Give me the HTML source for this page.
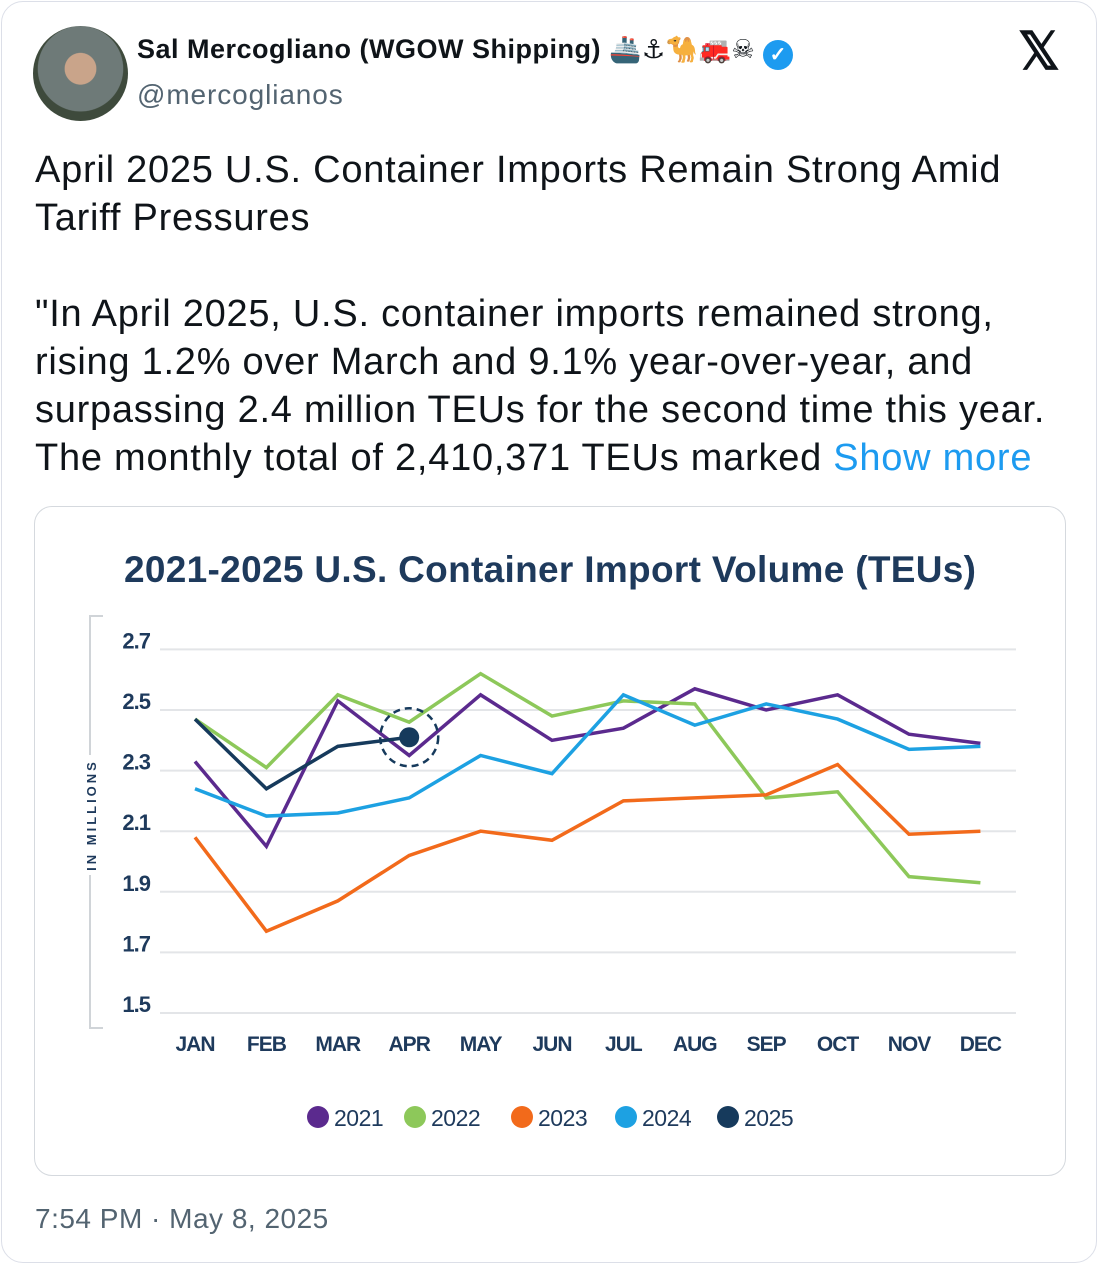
<!DOCTYPE html>
<html><head><meta charset="utf-8"><style>
body{margin:0;width:1100px;height:1266px;background:#fff;font-family:"Liberation Sans",sans-serif;overflow:hidden}
.card{position:absolute;left:1px;top:1px;width:1096px;height:1262px;border:1px solid #dcdfe8;border-radius:22px;box-sizing:border-box}
.abs{position:absolute}
</style></head><body>
<div class="card"></div>
<div class="abs" style="left:33px;top:26px;width:95px;height:95px;border-radius:50%;background:radial-gradient(circle at 50% 45%,#c9a48a 0 22%,#6e7a78 23% 60%,#3e4a3c 61%)"></div>
<div class="abs" style="left:137px;top:34px;font-size:27px;font-weight:bold;color:#0f1419;white-space:nowrap;letter-spacing:0.5px">Sal Mercogliano (WGOW Shipping) <span style="font-family:'DejaVu Sans',sans-serif;font-size:26px">🚢⚓🐪🚒☠</span> <span style="display:inline-block;width:30px;height:30px;border-radius:50%;background:#1d9bf0;color:#fff;font-size:20px;text-align:center;line-height:30px;vertical-align:-3px">✓</span></div>
<div class="abs" style="left:137px;top:79px;font-size:28px;color:#536471;letter-spacing:0.9px">@mercoglianos</div>
<div class="abs" style="left:1018px;top:22px;font-size:52px;font-weight:bold;color:#0f1419">𝕏</div>
<div class="abs" style="left:35px;top:146px;width:1060px;font-size:38px;line-height:48px;color:#0f1419;letter-spacing:0.75px;white-space:nowrap">April 2025 U.S. Container Imports Remain Strong Amid<br>Tariff Pressures<br><br>"In April 2025, U.S. container imports remained strong,<br>rising 1.2% over March and 9.1% year-over-year, and<br>surpassing 2.4 million TEUs for the second time this year.<br>The monthly total of 2,410,371 TEUs marked <span style="color:#1d9bf0">Show more</span></div>
<div class="abs" style="left:34px;top:506px;width:1032px;height:670px;border:1px solid #d5d9de;border-radius:18px;box-sizing:border-box"></div>
<svg class="abs" style="left:0;top:0" width="1100" height="1266" id="chart">
<text x="550" y="582" text-anchor="middle" font-size="37" font-weight="bold" fill="#1e3a5c" textLength="852">2021-2025 U.S. Container Import Volume (TEUs)</text>
<path d="M103,616 H90 V1028 H103" fill="none" stroke="#d0d4d8" stroke-width="2"/>
<rect x="82" y="755" width="16" height="120" fill="#fff"/>
<text transform="translate(96,815) rotate(-90)" text-anchor="middle" font-size="13" font-weight="bold" fill="#1e3a5c" letter-spacing="3">IN MILLIONS</text>
<g id="grid"></g><g id="lines"></g><g id="legend"></g>
</svg>
<div class="abs" style="left:35px;top:1203px;font-size:28px;color:#536471;letter-spacing:0.5px">7:54 PM · May 8, 2025</div>
<script>
const months=["JAN","FEB","MAR","APR","MAY","JUN","JUL","AUG","SEP","OCT","NOV","DEC"];
const yTicks=[2.7,2.5,2.3,2.1,1.9,1.7,1.5];
const years=["2021","2022","2023","2024","2025"];
const colors=["#5b2a8e","#8dc85a","#f26a1b","#1da1e2","#163a5c"];
const s2021=[2.33,2.05,2.53,2.35,2.55,2.40,2.44,2.57,2.50,2.55,2.42,2.39];
const s2022=[2.47,2.31,2.55,2.46,2.62,2.48,2.53,2.52,2.21,2.23,1.95,1.93];
const s2023=[2.08,1.77,1.87,2.02,2.10,2.07,2.20,2.21,2.22,2.32,2.09,2.10];
const s2024=[2.24,2.15,2.16,2.21,2.35,2.29,2.55,2.45,2.52,2.47,2.37,2.38];
const s2025=[2.47,2.24,2.38,2.41];
const series=[s2021,s2022,s2023,s2024,s2025];
const NS="http://www.w3.org/2000/svg";
const x=i=>195+i*71.4;
const y=v=>1013-(v-1.5)/0.2*60.6;
function mk(t,a,p){const e=document.createElementNS(NS,t);for(const k in a)e.setAttribute(k,a[k]);p.appendChild(e);return e;}
const g=document.getElementById('grid');
yTicks.forEach(v=>{
 const l=mk('line',{x1:160,x2:1016,y1:y(v),y2:y(v),stroke:'#e3e5e8','stroke-width':2},g);
 
 
 const t=mk('text',{x:150,y:y(v)-1,'text-anchor':'end','font-size':22,'font-weight':'bold',fill:'#1e3a5c','letter-spacing':-1},g);
 t.textContent=v.toFixed(1);
 
 
});
months.forEach((m,i)=>{
 const t=mk('text',{x:x(i),y:1051,'text-anchor':'middle','font-size':21,'font-weight':'bold',fill:'#1e3a5c','letter-spacing':-1},g);
 t.textContent=m;
 
 
});
const L=document.getElementById('lines');
series.forEach((s,k)=>{
 const p=mk('polyline',{points:s.map((v,i)=>x(i)+','+y(v)).join(' '),fill:'none',stroke:colors[k],'stroke-width':3.5,'stroke-linejoin':'miter'},L);
 
 
});
const li=s2025.length-1;
const c=mk('circle',{cx:x(li),cy:y(s2025[li]),r:10,fill:colors[4]},L);


const r=mk('circle',{cx:x(li),cy:y(s2025[li]),r:29,fill:'none',stroke:colors[4],'stroke-width':2.5,'stroke-dasharray':'7 5'},L);


const lg=document.getElementById('legend');
const lx=[318,415,522,626,728];
years.forEach((yr,k)=>{
 const d=mk('circle',{cx:lx[k],cy:1117,r:11,fill:colors[k]},lg);
 
 
 const t=mk('text',{x:lx[k]+16,y:1126,'font-size':23,fill:'#1e3a5c','letter-spacing':-0.5},lg);
 t.textContent=yr;
 
 
});
</script>
</body></html>
